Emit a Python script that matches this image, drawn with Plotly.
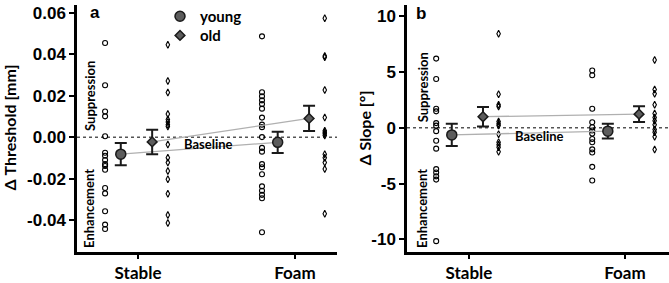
import plotly.graph_objects as go

# ---------------- data ----------------
categories = ["Stable", "Foam"]

# Panel a: Δ Threshold [mm]
thr_young_stable = [0.0454, 0.0251, 0.0124, 0.0101, 0.0005, -0.0074, -0.0089, -0.0109,
                    -0.0129, -0.0138, -0.0156, -0.0244, -0.0270, -0.0356, -0.0420, -0.0441]
thr_old_stable = [0.0446, 0.0271, 0.0216, 0.0112, 0.0086, 0.0074, 0.0061, 0.0052, -0.0035,
                  -0.0098, -0.0121, -0.0162, -0.0202, -0.0271, -0.0374, -0.0412]
thr_young_foam = [0.0486, 0.0217, 0.0198, 0.0178, 0.0160, 0.0138, 0.0095, 0.0061, 0.0049,
                  0.0001, -0.0051, -0.0069, -0.0129, -0.0144, -0.0178, -0.0236, -0.0257,
                  -0.0277, -0.0293, -0.0457]
thr_old_foam = [0.0573, 0.0392, 0.0386, 0.0228, 0.0095, 0.0032, 0.0024, 0.0017, 0.0009,
                -0.0081, -0.0098, -0.0121, -0.0152, -0.0368]
thr_young_mean = [-0.0081, -0.0024]
thr_young_err = [0.0054, 0.0051]
thr_old_mean = [-0.0022, 0.0091]
thr_old_err = [0.0059, 0.0061]

# Panel b: Δ Slope [°]
slp_young_stable = [6.19, 4.36, 1.70, 1.47, 0.42, 0.19, -0.30, -1.16, -1.87, -3.70, -4.00,
                    -4.35, -4.64, -10.15]
slp_old_stable = [8.41, 2.99, 2.05, 1.90, 0.56, 0.36, 0.21, -0.58, -1.30, -1.53, -1.75, -2.15]
slp_young_foam = [5.13, 4.70, 1.70, 0.50, 0.05, -0.24, -0.52, -1.01, -1.29, -1.93, -2.21,
                  -3.50, -4.72]
slp_old_foam = [6.07, 3.42, 3.04, 2.07, 1.28, 0.93, 0.62, 0.27, -0.15, -0.39, -0.81, -1.95]
slp_young_mean = [-0.64, -0.30]
slp_young_err = [1.00, 0.65]
slp_old_mean = [0.99, 1.22]
slp_old_err = [0.88, 0.70]

thr_tickvals = [-0.04, -0.02, 0.0, 0.02, 0.04, 0.06]
thr_ticktext = ["-0.04", "-0.02", "0.00", "0.02", "0.04", "0.06"]
slp_tickvals = [-10, -5, 0, 5, 10]
slp_ticktext = ["-10", "-5", "0", "5", "10"]

# ---------------- styling / positions ----------------
W, H = 669, 283
BOT = 25
PH = H - BOT
OFF_YP, OFF_YM, OFF_OM, OFF_OP = -0.21, -0.11, 0.09, 0.19
MEAN_FILL = "#5c5c5c"
TXT = "Lato"
NUM = "Liberation Sans"


def px(x):
    return x / W


def py(y):
    return 1 - y / PH


fig = go.Figure()


def add_panel(xa, ya, ys, os_, yf, of, ym, ye, om, oe, legend):
    xs = [0, 1]
    for vals, cx, sym, sz in [(ys, 0 + OFF_YP, "circle-open", 5),
                              (os_, 0 + OFF_OP, "diamond-tall-open", 5),
                              (yf, 1 + OFF_YP, "circle-open", 5),
                              (of, 1 + OFF_OP, "diamond-tall-open", 5)]:
        fig.add_trace(go.Scatter(
            x=[cx] * len(vals), y=vals, mode="markers", xaxis=xa, yaxis=ya,
            marker=dict(symbol=sym, size=sz, color="black", line=dict(width=1.1, color="black")),
            showlegend=False, hoverinfo="y"))
    fig.add_trace(go.Scatter(x=[c + OFF_YM for c in xs], y=ym, mode="lines", xaxis=xa, yaxis=ya,
                             line=dict(color="#b0b0b0", width=1.3), showlegend=False, hoverinfo="skip"))
    fig.add_trace(go.Scatter(x=[c + OFF_OM for c in xs], y=om, mode="lines", xaxis=xa, yaxis=ya,
                             line=dict(color="#b0b0b0", width=1.3), showlegend=False, hoverinfo="skip"))
    fig.add_trace(go.Scatter(
        x=[c + OFF_YM for c in xs], y=ym, mode="markers", xaxis=xa, yaxis=ya, name="young",
        error_y=dict(type="data", array=ye, visible=True, color="#1a1a1a", thickness=2, width=6),
        marker=dict(symbol="circle", size=10, color=MEAN_FILL, line=dict(width=1.5, color="#1a1a1a")),
        showlegend=legend, legend="legend"))
    fig.add_trace(go.Scatter(
        x=[c + OFF_OM for c in xs], y=om, mode="markers", xaxis=xa, yaxis=ya, name="old",
        error_y=dict(type="data", array=oe, visible=True, color="#1a1a1a", thickness=2, width=6),
        marker=dict(symbol="diamond", size=7.5, color=MEAN_FILL, line=dict(width=1.5, color="#1a1a1a")),
        showlegend=legend, legend="legend2"))


add_panel("x", "y", thr_young_stable, thr_old_stable, thr_young_foam, thr_old_foam,
          thr_young_mean, thr_young_err, thr_old_mean, thr_old_err, True)
add_panel("x2", "y2", slp_young_stable, slp_old_stable, slp_young_foam, slp_old_foam,
          slp_young_mean, slp_young_err, slp_old_mean, slp_old_err, False)

common_x = dict(tickvals=[0, 1], ticktext=categories, showgrid=False, zeroline=False,
                showline=True, linecolor="black", linewidth=2.5, ticks="outside", ticklen=4,
                tickwidth=1.5, tickcolor="black",
                tickfont=dict(family=TXT, size=17, color="black", weight="bold"))
common_y = dict(showgrid=False, zeroline=False, showline=True, linecolor="black", linewidth=2.5,
                ticks="outside", ticklen=5, tickwidth=2, tickcolor="black",
                tickfont=dict(family=NUM, size=17, color="black", weight="bold"))

legend_common = dict(xanchor="left", yanchor="middle", bgcolor="rgba(0,0,0,0)",
                     font=dict(family=TXT, size=15, color="black", weight="bold"),
                     itemsizing="trace")

fig.update_layout(
    width=W, height=H, margin=dict(l=0, r=0, t=0, b=BOT, pad=0),
    paper_bgcolor="white", plot_bgcolor="white",
    xaxis=dict(domain=[77 / W, 337 / W], range=[-0.389, 1.268], anchor="y", **common_x),
    yaxis=dict(domain=[0, 1], range=[-0.0552, 0.0637], anchor="x",
               tickvals=thr_tickvals, ticktext=thr_ticktext, **common_y),
    xaxis2=dict(domain=[407 / W, 1], range=[-0.397, 1.282], anchor="y2", **common_x),
    yaxis2=dict(domain=[0, 1], range=[-11.12, 10.99], anchor="x2",
                tickvals=slp_tickvals, ticktext=slp_ticktext, **common_y),
    showlegend=True,
    legend=dict(x=px(160), y=py(12), **legend_common),
    legend2=dict(x=px(160), y=py(32), **legend_common),
)

for xr, yr in [("x domain", "y"), ("x2 domain", "y2")]:
    fig.add_shape(type="line", xref=xr, yref=yr, x0=0, x1=1, y0=0, y1=0,
                  line=dict(color="#555555", width=1.5, dash="dot"), layer="below")


def ann(text, x, y, size=13, angle=0, xanchor="center", family=TXT):
    fig.add_annotation(text=f"<b>{text}</b>", x=px(x), y=py(y),
                       xref="paper", yref="paper", showarrow=False, textangle=angle,
                       xanchor=xanchor, yanchor="middle",
                       font=dict(family=family, size=size, color="black"))


ann("a", 95, 8, size=17, family=NUM)
ann("b", 421, 9, size=17, family=NUM)
ann("Suppression", 90, 95, angle=-90)
ann("Enhancement", 89, 213, angle=-90)
ann("Baseline", 182, 145, xanchor="left")
ann("Suppression", 423, 86, angle=-90)
ann("Enhancement", 422, 213, angle=-90)
ann("Baseline", 513, 137, xanchor="left")
ann("Δ Threshold [mm]", 10, 128, size=16, angle=-90)
ann("Δ Slope [°]", 365, 128, size=16, angle=-90)

fig.write_html("out.html", config={"displayModeBar": False},
               post_script="document.body.style.margin='0';document.body.style.overflow='hidden';")
